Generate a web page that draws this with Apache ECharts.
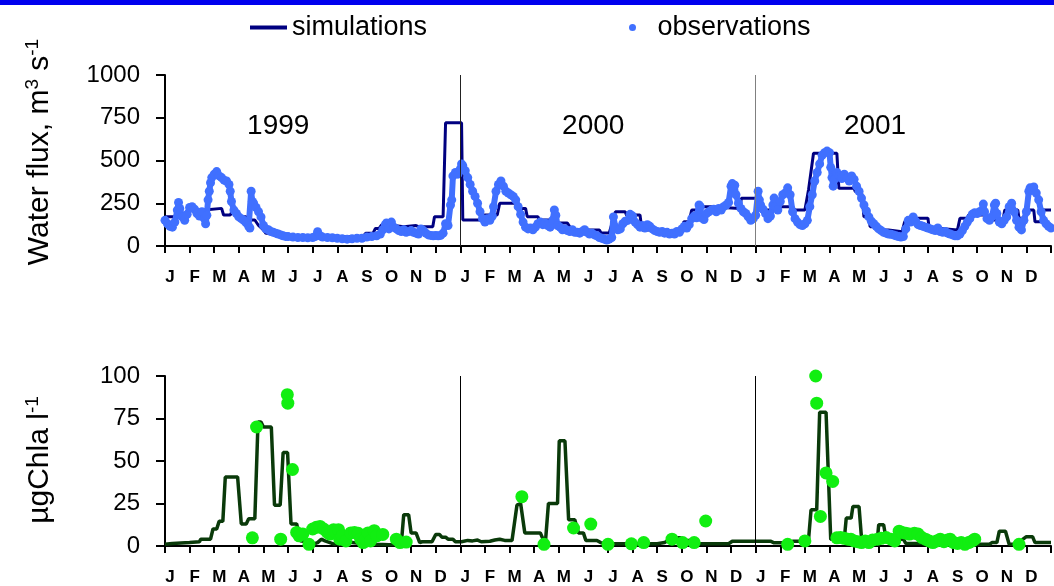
<!DOCTYPE html>
<html>
<head>
<meta charset="utf-8">
<script src="https://cdn.jsdelivr.net/npm/echarts@6/dist/echarts.min.js"></script>
<style>
html,body{margin:0;padding:0;background:#fff;}
#c{width:1054px;height:586px;}
</style>
</head>
<body>
<div id="c"></div>
<script>
// ---- data (x = months since Jan 1999) ----
const monthLabels = ['J','F','M','A','M','J','J','A','S','O','N','D'];
const years = ['1999','2000','2001'];
const flowTicks = [0, 250, 500, 750, 1000];
const chlTicks = [0, 25, 50, 75, 100];

const flowSim = [
[0,171],[0.4,171],[0.5,190],[0.9,190],[1.0,210],[1.6,210],[1.65,220],[2.3,220],[2.38,181],[2.65,181],[2.72,200],[2.98,200],[3.05,171],[3.3,171],[3.36,152],[3.65,152],[3.8,120],[4.0,94],[4.1,74],[4.55,74],[4.65,64],[5.5,60],[6.5,56],[7.5,56],[8.05,56],[8.15,74],[8.45,74],[8.55,103],[8.7,103],[8.8,123],[9.15,123],[9.2,113],[9.7,113],[9.75,120],[10.2,120],[10.3,113],[10.88,113],[10.95,171],[11.3,171],[11.4,721],[12.05,721],[12.1,152],
[12.9,152],[12.98,181],[13.5,181],[13.6,250],[14.3,250],[14.35,220],[14.65,220],[14.72,171],[15.15,171],[15.22,152],[15.85,152],[15.92,134],[16.35,134],[16.5,100],[16.95,94],[17.65,94],[17.72,76],[18.05,76],[18.2,150],[18.3,200],[18.7,200],[18.75,181],[19.3,181],[19.38,94],[19.98,94],[20.05,76],[21.0,76],[21.08,142],[21.3,142],[21.4,210],[21.8,210],[21.85,230],[22.2,230],[22.25,220],[23.35,220],[23.42,279],[24.1,279],[24.15,210],[24.65,210],[24.72,230],[25.5,230],[25.6,210],[26.0,210],[26.15,330],[26.35,542],
[27.3,542],[27.38,337],[28.0,337],[28.05,318],[28.3,318],[28.4,171],[28.6,171],[28.65,113],[28.85,113],[28.9,94],[29.4,94],[29.45,84],[29.95,84],[30.05,140],[30.3,162],[31.0,162],[31.05,105],[31.3,105],[31.35,94],[32.2,94],[32.3,162],[32.6,162],[32.65,181],[33.4,181],[33.45,152],[34.05,152],[34.12,210],[34.65,210],[34.7,162],[34.9,162],[34.95,210],[35.3,210],[35.35,142],[35.6,142],[35.65,210],[36,210]
];

const flowObs = [
[0.0,150],[0.1,130],[0.2,115],[0.3,110],[0.4,140],[0.5,210],[0.55,255],[0.6,220],[0.7,170],[0.8,150],[0.9,185],[1.0,225],[1.1,230],[1.2,215],[1.3,190],[1.4,175],[1.5,200],[1.6,160],[1.65,130],[1.7,180],[1.75,270],[1.8,320],[1.85,370],[1.9,400],[2.0,420],[2.1,435],[2.2,410],[2.3,400],[2.4,385],[2.5,380],[2.6,360],[2.65,320],[2.7,260],[2.8,210],[2.9,190],[3.0,170],[3.1,160],[3.2,150],[3.3,135],[3.4,115],[3.45,105],[3.5,320],[3.55,260],[3.6,250],[3.7,225],[3.8,200],[3.9,170],[4.0,120],[4.1,100],[4.2,95],[4.3,85],[4.4,80],[4.5,75],[4.6,70],[4.7,65],[4.8,60],[4.9,56],[5.0,55],[5.2,52],[5.4,50],[5.6,50],[5.8,48],[6.0,50],[6.1,55],[6.2,84],[6.3,60],[6.4,52],[6.6,50],[6.8,48],[7.0,45],[7.2,42],[7.4,40],[7.6,42],[7.8,45],[8.0,45],[8.2,52],[8.4,55],[8.6,60],[8.75,70],[8.85,95],[8.95,125],[9.0,135],[9.1,100],[9.2,140],[9.3,110],[9.4,100],[9.5,90],[9.6,85],[9.7,95],[9.8,80],[9.9,85],[10.0,90],[10.1,80],[10.2,75],[10.3,70],[10.4,100],[10.5,90],[10.6,75],[10.7,65],[10.8,62],[10.9,60],[11.0,62],[11.1,60],[11.2,62],[11.3,75],[11.4,130],[11.5,120],[11.6,240],[11.65,270],[11.7,410],[11.8,430],[11.9,420],[12.0,450],
[12.05,480],[12.1,470],[12.2,440],[12.3,400],[12.4,360],[12.5,320],[12.6,290],[12.7,250],[12.8,200],[12.9,160],[13.0,140],[13.1,160],[13.2,150],[13.3,175],[13.35,230],[13.45,320],[13.55,360],[13.65,380],[13.75,350],[13.85,320],[13.95,310],[14.05,300],[14.15,290],[14.25,270],[14.35,230],[14.45,185],[14.55,140],[14.65,110],[14.75,100],[14.85,105],[14.95,95],[15.05,110],[15.15,130],[15.25,140],[15.35,125],[15.45,135],[15.55,120],[15.65,110],[15.75,150],[15.82,211],[15.88,180],[15.95,120],[16.05,110],[16.15,95],[16.25,100],[16.35,90],[16.45,85],[16.55,95],[16.65,80],[16.75,80],[16.85,75],[16.95,85],[17.05,95],[17.15,80],[17.25,70],[17.35,75],[17.45,65],[17.55,60],[17.65,50],[17.75,45],[17.85,40],[17.95,35],[18.05,40],[18.15,50],[18.22,170],[18.3,110],[18.4,95],[18.5,100],[18.6,130],[18.7,145],[18.8,150],[18.9,185],[19.0,175],[19.1,140],[19.2,125],[19.3,110],[19.4,120],[19.5,105],[19.6,125],[19.7,115],[19.8,100],[19.9,90],[20.0,85],[20.1,80],[20.2,85],[20.3,75],[20.4,80],[20.5,70],[20.6,75],[20.7,70],[20.8,85],[20.9,80],[21.0,100],[21.1,115],[21.2,105],[21.3,125],[21.4,160],[21.5,175],[21.6,165],[21.7,240],[21.75,230],[21.8,165],[21.9,155],[22.0,190],[22.1,200],[22.2,210],[22.3,215],[22.4,200],[22.5,220],[22.6,210],[22.7,230],[22.8,240],[22.9,255],[23.0,350],[23.05,365],[23.1,340],[23.15,355],[23.2,300],[23.3,250],[23.4,220],[23.5,200],[23.6,190],[23.7,170],[23.8,150],[23.9,160],
[24.0,180],[24.1,320],[24.15,270],[24.2,240],[24.3,215],[24.4,190],[24.5,160],[24.6,175],[24.7,240],[24.75,280],[24.8,230],[24.9,210],[25.0,260],[25.1,300],[25.2,310],[25.3,340],[25.4,300],[25.5,200],[25.6,160],[25.7,140],[25.8,125],[25.9,120],[26.0,130],[26.1,150],[26.2,230],[26.3,300],[26.4,380],[26.5,430],[26.6,480],[26.7,530],[26.8,545],[26.9,555],[27.0,545],[27.05,460],[27.1,400],[27.15,350],[27.2,390],[27.3,430],[27.4,410],[27.5,395],[27.6,420],[27.7,400],[27.8,380],[27.9,410],[28.0,390],[28.1,350],[28.2,320],[28.3,280],[28.4,240],[28.5,205],[28.6,170],[28.7,145],[28.8,130],[28.9,115],[29.0,100],[29.1,90],[29.2,80],[29.3,75],[29.4,70],[29.5,68],[29.6,65],[29.7,60],[29.8,55],[29.9,52],[30.0,55],[30.1,100],[30.2,150],[30.3,140],[30.4,170],[30.5,145],[30.6,125],[30.7,120],[30.8,115],[30.9,110],[31.0,105],[31.1,100],[31.2,95],[31.3,90],[31.4,105],[31.5,85],[31.6,80],[31.7,85],[31.8,75],[31.9,70],[32.0,65],[32.1,60],[32.2,60],[32.3,70],[32.4,90],[32.5,115],[32.6,140],[32.7,160],[32.8,185],[32.9,195],[33.0,190],[33.1,200],[33.2,210],[33.25,245],[33.3,200],[33.4,160],[33.5,150],[33.6,170],[33.7,240],[33.75,250],[33.8,190],[33.9,140],[34.0,130],[34.1,150],[34.2,170],[34.3,230],[34.4,250],[34.5,200],[34.6,150],[34.7,110],[34.8,94],[34.9,150],[35.0,200],[35.1,320],[35.15,340],[35.2,330],[35.3,345],[35.4,310],[35.5,270],[35.6,200],[35.7,150],[35.8,130],[35.9,115],[36.0,105]
];

const chlSim = [
[0,1],[0.3,1.5],[0.35,2],[1.0,2],[1.05,2.5],[1.4,2.5],[1.45,4],[1.85,4],[1.95,10],[2.1,10],[2.2,14.5],[2.35,14.5],[2.45,40.6],[2.95,40.6],[3.1,13],[3.3,13],[3.4,16],[3.65,16],[3.78,73],[3.9,73],[4.0,70],[4.32,70],[4.45,24],[4.68,24],[4.8,55],[4.98,55],[5.12,13],[5.35,13],[5.5,3],[5.9,2],[6.0,1],[6.2,2],[6.35,4],[6.5,3],[6.7,2],[6.9,1],[7.1,3.3],[7.3,2],[7.6,2],[8.0,1.5],[8.6,1],[9.1,0.8],[9.6,1],[9.7,18.4],[9.9,18.4],[10.0,7.7],[10.2,7.7],[10.35,2],[10.45,2.5],[10.85,2.5],[11.0,6.8],[11.15,6.8],[11.25,5.2],[11.4,5.2],[11.5,4],[11.7,4],[11.8,2.5],[12.05,2.5],
[12.3,3.3],[12.5,3],[12.7,3.5],[12.85,2.5],[13.2,2.8],[13.4,3.5],[13.6,4],[13.8,3.3],[14.1,3.3],[14.3,24],[14.45,25],[14.62,7.7],[15.25,7.7],[15.45,1],[15.58,25],[15.95,25],[16.02,61.9],[16.25,61.9],[16.4,15.4],[16.65,15.4],[16.8,7.7],[17.0,7.7],[17.1,3.3],[17.55,3.3],[17.7,2],[17.9,1.3],[20.0,1.3],[20.3,2],[20.6,4.8],[20.95,4.8],[21.1,3.3],[21.6,3.3],[21.7,1.3],[22.9,1.3],[23.05,2.8],[23.97,2.8],
[24.6,2.8],[24.75,1.9],[25.1,1.9],[25.2,1.3],[25.45,1.3],[25.5,2.8],[25.85,2.8],[25.95,4],[26.15,4],[26.25,21.3],[26.48,21.3],[26.6,78.7],[26.86,78.7],[27.05,3.9],[27.6,3.9],[27.68,16.4],[27.88,16.4],[27.95,23.2],[28.2,23.2],[28.3,4.8],[28.95,4.8],[29.0,12.5],[29.2,12.5],[29.3,4],[30.0,4],[30.1,1.5],[30.8,1.5],[30.9,1],[33.5,1],[33.6,2],[33.8,2],[33.9,8.7],[34.15,8.7],[34.3,1],[34.75,1],[34.85,3.9],[35.0,5.5],[35.25,5.5],[35.35,2],[36,2]
];

const chlObs = [
[3.55,4.8],[3.72,70],[4.7,4],[4.97,89],[4.99,84],[5.18,45],[5.35,8],[5.45,6],[5.6,7],[5.85,1],[6.0,10],[6.15,11],[6.3,11.5],[6.45,10],[6.6,8],[6.7,7],[6.85,9.6],[6.95,8],[7.05,9.6],[7.1,4],[7.2,6],[7.35,3],[7.55,7.7],[7.7,8],[7.85,7.5],[7.95,4],[8.05,2],[8.15,4],[8.25,7.7],[8.35,3],[8.5,9],[8.6,6],[8.85,6.8],[9.4,4],[9.55,2],[9.8,2.3],
[14.5,29],[15.4,1],[16.6,10.6],[17.3,12.9],[18.0,1],[18.95,1.3],[19.45,2],[20.6,4],[21.03,2],[21.5,2],[21.97,14.7],
[25.3,1],[26.0,3],[26.44,100],[26.48,84],[26.63,17.4],[26.86,43],[27.13,38],[27.3,4.8],[27.45,5],[27.6,4.5],[27.75,4],[27.87,3.9],[28.0,3],[28.15,2.5],[28.3,2],[28.45,3],[28.6,2],[28.75,3.5],[28.95,4],[29.1,4.5],[29.3,5],[29.5,4],[29.65,3],[29.83,8.7],[29.95,8],[30.1,7.5],[30.25,7],[30.45,7.5],[30.6,7],[30.75,5],[30.9,4],[31.05,3],[31.2,2],[31.35,3],[31.5,4],[31.65,2.5],[31.8,3.5],[31.9,4],[32.05,2],[32.2,1.5],[32.35,2],[32.5,1],[32.65,2],[32.8,3],[32.9,4],[34.7,1]
];

// ---- chart ----
const FONT = 'Liberation Sans, Arial, sans-serif';
const chart = echarts.init(document.getElementById('c'), null, {renderer:'canvas'});

function xAxisFor(gi){
  return {
    gridIndex: gi, type:'value', min:0, max:36, interval:1,
    axisLine:{show:true, onZero:false, lineStyle:{color:'#000', width:2}},
    axisTick:{show:true, length:7, lineStyle:{color:'#000', width:2}},
    axisLabel:{show:true, margin:23, fontSize:17, fontWeight:'bold', color:'#000', fontFamily:FONT,
      padding:[0,0,0,10],
      formatter:(v)=> (v>=36 ? '' : monthLabels[Math.round(v)%12])},
    splitLine:{show:false}
  };
}
function yAxisFor(gi, ticks){
  return {
    gridIndex: gi, type:'value', min:ticks[0], max:ticks[ticks.length-1], interval:ticks[1]-ticks[0],
    axisLine:{show:true, lineStyle:{color:'#000', width:2}},
    axisTick:{show:true, length:9, lineStyle:{color:'#000', width:2}},
    axisLabel:{margin:25, fontSize:24, color:'#000', fontFamily:FONT, formatter:(v)=>String(v)},
    splitLine:{show:false}
  };
}

const dividerLines = (colors)=>({
  silent:true, symbol:'none', animation:false,
  label:{show:false},
  lineStyle:{type:'solid', width:1, color:'#000'},
  data: years.slice(1).map((y,i)=>({xAxis:(i+1)*12, lineStyle:{color:colors[i], width:1, type:'solid'}}))
});

const yearLabelOffsets = [4.6, 5.4, 4.85];
const yearLabelLevel = 700;

const option = {
  animation:false,
  backgroundColor:'#fff',
  textStyle:{fontFamily:FONT},
  grid:[
    {left:165, top:75, width:890, height:171},
    {left:165, top:376, width:890, height:172}
  ],
  xAxis:[xAxisFor(0), xAxisFor(1)],
  yAxis:[yAxisFor(0, flowTicks), yAxisFor(1, chlTicks)],
  legend:[
    {data:['simulations'], left:245, top:9, icon:'rect', itemWidth:37, itemHeight:4,
     textStyle:{fontSize:27, color:'#000', fontFamily:FONT}, selectedMode:false},
    {data:['observations'], left:624, top:9, icon:'circle', itemWidth:40, itemHeight:7,
     textStyle:{fontSize:27, color:'#000', fontFamily:FONT}, selectedMode:false}
  ],
  series:[
    {name:'simulations', type:'line', xAxisIndex:0, yAxisIndex:0, data:flowSim, showSymbol:false, symbol:'none',
     lineStyle:{color:'#000080', width:3}, itemStyle:{color:'#000080'}, z:2,
     markLine: dividerLines(['#222','#808080'])},
    {name:'observations', type:'line', xAxisIndex:0, yAxisIndex:0, data:flowObs,
     symbol:'circle', symbolSize:9, showSymbol:true, showAllSymbol:true,
     lineStyle:{color:'#4070ff', width:6}, itemStyle:{color:'#4070ff', opacity:1}, z:3},
    {name:'chl simulations', type:'line', xAxisIndex:1, yAxisIndex:1, data:chlSim, showSymbol:false, symbol:'none',
     lineStyle:{color:'#0a3a0a', width:3.5}, itemStyle:{color:'#0a3a0a'}, z:2,
     markLine: dividerLines(['#000','#000'])},
    {name:'chl observations', type:'scatter', xAxisIndex:1, yAxisIndex:1, data:chlObs, symbolSize:13,
     itemStyle:{color:'#11ee11', opacity:1}, z:3, clip:false}
  ]
};
chart.setOption(option);

// axis titles and year labels placed from the axes' own scales
const titleRich = {
  a:{fontSize:30, fontFamily:FONT, fill:'#000', lineHeight:34},
  s:{fontSize:19, fontFamily:FONT, fill:'#000', verticalAlign:'top', lineHeight:34}
};
const graphics = [
  {type:'rect', shape:{x:0, y:0, width:1054, height:5}, style:{fill:'#0000ee'}},
  {type:'text', x:40, y:152, rotation:Math.PI/2,
   style:{text:'{a|Water flux, m}{s|3}{a| s}{s|-1}', align:'center', verticalAlign:'middle', rich:titleRich}},
  {type:'text', x:40, y:460, rotation:Math.PI/2,
   style:{text:'{a|µgChla l}{s|-1}', align:'center', verticalAlign:'middle', rich:titleRich}}
];
years.forEach((y,i)=>{
  const p = chart.convertToPixel({gridIndex:0}, [i*12 + yearLabelOffsets[i], yearLabelLevel]);
  graphics.push({type:'text', x:p[0], y:p[1],
    style:{text:y, fontSize:28, fill:'#000', fontFamily:FONT, align:'center', verticalAlign:'middle'}});
});
chart.setOption({graphic:graphics});
</script>
</body>
</html>
